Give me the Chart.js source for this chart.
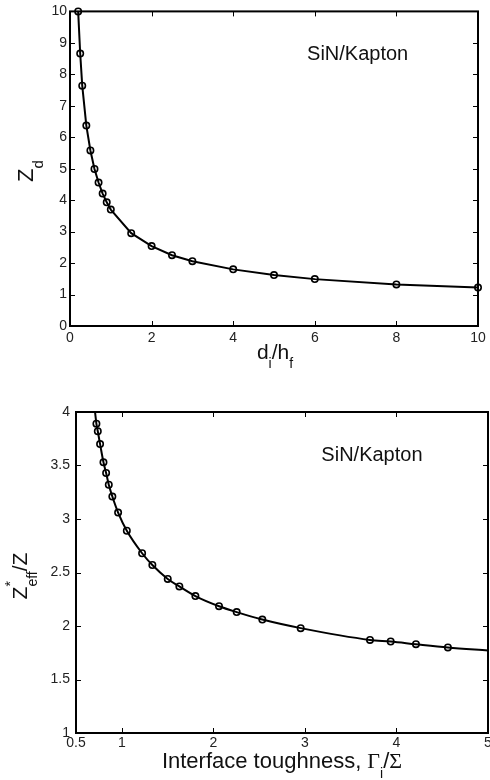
<!DOCTYPE html>
<html>
<head>
<meta charset="utf-8">
<script src="https://cdn.jsdelivr.net/npm/chart.js@4"></script>
<style>
body{ margin:0; background:#fff; overflow:hidden; }
#arriba{ position:absolute; left:0; top:0; }
#abajo{ position:absolute; left:0; top:390px; }
</style>
</head>
<body>

<canvas id="arriba" width="500" height="390"></canvas>
<canvas id="abajo" width="500" height="390"></canvas>

<script>

// ================================
// DATOS
// ================================

// Z_d frente a d_i/h_f
const relacionD = [0.2,0.25,0.3,0.4,0.5,0.6,0.7,0.8,0.9,1.0,1.5,2,2.5,3,4,5,6,8,10];
const zd = [10,8.66,7.64,6.37,5.58,4.99,4.56,4.21,3.93,3.70,2.95,2.54,2.25,2.06,1.80,1.62,1.49,1.32,1.22];

// Z*eff/Z frente a tenacidad de la interfaz
const tenacidad = [0.723,0.738,0.763,0.80,0.829,0.858,0.897,0.96,1.055,1.222,1.334,1.502,1.629,1.804,2.062,2.255,2.535,2.954,3.711,3.937,4.213,4.562];
const zEff = [3.89,3.82,3.70,3.53,3.43,3.32,3.21,3.06,2.89,2.68,2.57,2.44,2.37,2.28,2.185,2.13,2.06,1.98,1.87,1.855,1.83,1.80];

// extremos de la curva continua
const curvaInicio = {x:0.708, y:4.0};
const curvaFin = {x:5.0, y:1.77};

const ticksXAbajo = [0.5,1,2,3,4,5];

const fuente = "'Liberation Sans', Arial, sans-serif";
const fuenteSerif = "'Liberation Serif', 'Times New Roman', serif";


// ================================
// TEXTO CON SUBINDICES
// ================================

function anchoPartes(ctx, partes){
    let total = 0;
    partes.forEach(p=>{
        ctx.font = p.size + "px " + (p.family || fuente);
        if(!p.stack) total += ctx.measureText(p.t).width;
    });
    return total;
}

function textoRico(ctx, partes, cx, cy, girado){

    ctx.save();
    ctx.translate(cx, cy);
    if(girado) ctx.rotate(-Math.PI/2);

    ctx.fillStyle = "#111";
    ctx.textBaseline = "alphabetic";
    ctx.textAlign = "left";

    let x = -anchoPartes(ctx, partes)/2;

    partes.forEach(p=>{
        ctx.font = p.size + "px " + (p.family || fuente);
        ctx.fillText(p.t, x, p.dy || 0);
        if(!p.stack) x += ctx.measureText(p.t).width;
    });

    ctx.restore();
}


// ================================
// CAJA Y TICKS HACIA DENTRO
// ================================

const cajaPlugin = {

    id: "caja",

    afterDraw(chart){

        const ctx = chart.ctx;
        const a = chart.chartArea;
        const sx = chart.scales.x;
        const sy = chart.scales.y;
        const largo = 5;

        ctx.save();
        ctx.strokeStyle = "#000";
        ctx.lineWidth = 1;

        ctx.beginPath();
        sx.ticks.forEach(t=>{
            const px = Math.round(sx.getPixelForValue(t.value)) + 0.5;
            ctx.moveTo(px, a.bottom); ctx.lineTo(px, a.bottom - largo);
            ctx.moveTo(px, a.top); ctx.lineTo(px, a.top + largo);
        });
        sy.ticks.forEach(t=>{
            const py = Math.round(sy.getPixelForValue(t.value)) + 0.5;
            ctx.moveTo(a.left, py); ctx.lineTo(a.left + largo, py);
            ctx.moveTo(a.right, py); ctx.lineTo(a.right - largo, py);
        });
        ctx.stroke();

        ctx.lineWidth = 2;
        ctx.strokeRect(a.left, a.top, a.right - a.left, a.bottom - a.top);

        ctx.restore();

        const o = chart.options.plugins.textos;
        if(!o) return;

        // titulos de los ejes
        o.titulos.forEach(t=>{
            textoRico(ctx, t.partes, t.x, t.y, t.girado);
        });

        // etiqueta del material, colocada en coordenadas de datos
        ctx.save();
        ctx.font = "20px " + fuente;
        ctx.fillStyle = "#111";
        ctx.textAlign = "left";
        ctx.textBaseline = "alphabetic";
        ctx.fillText(
            o.material.texto,
            sx.getPixelForValue(o.material.x),
            sy.getPixelForValue(o.material.y)
        );
        ctx.restore();
    }
};


function escala(min, max, opciones, ancho, alto){

    const s = {
        type: "linear",
        min: min,
        max: max,
        grid: { display:false, drawTicks:false },
        border: { display:false },
        ticks: Object.assign({
            color: "#222",
            font: { family: fuente, size: 14 },
            autoSkip: false,
            maxRotation: 0,
            callback: v => String(v)
        }, opciones)
    };

    if(ancho) s.afterFit = e => { e.width = ancho; };
    if(alto) s.afterFit = e => { e.height = alto; };

    return s;
}


// ================================
// GRAFICO SUPERIOR
// ================================

new Chart(document.getElementById("arriba"), {

    type: "scatter",

    data: {
        datasets: [{
            data: relacionD.map((x,i)=>({x:x, y:zd[i]})),
            showLine: true,
            borderColor: "#000",
            borderWidth: 2,
            tension: 0,
            pointRadius: 3.2,
            pointBorderWidth: 1.6,
            pointBorderColor: "#000",
            pointBackgroundColor: "rgba(0,0,0,0)",
            clip: false
        }]
    },

    options: {
        responsive: false,
        animation: false,
        layout: { padding: { top:11, right:22, left:0, bottom:0 } },
        scales: {
            x: escala(0, 10, { stepSize:2, padding:4 }, null, 64),
            y: escala(0, 10, { stepSize:1, padding:3 }, 70, null)
        },
        plugins: {
            legend: { display:false },
            tooltip: { enabled:false },
            textos: {
                material: { texto:"SiN/Kapton", x:5.81, y:8.47 },
                titulos: [
                    {
                        x: 275, y: 359, girado: false,
                        partes: [
                            { t:"d", size:21 },
                            { t:"i", size:14, dy:9 },
                            { t:"/h", size:21 },
                            { t:"f", size:14, dy:9 }
                        ]
                    },
                    {
                        x: 33, y: 171, girado: true,
                        partes: [
                            { t:"Z", size:22 },
                            { t:"d", size:15, dy:10 }
                        ]
                    }
                ]
            }
        }
    },

    plugins: [cajaPlugin]
});


// ================================
// GRAFICO INFERIOR
// ================================

const puntosAbajo = tenacidad.map((x,i)=>({x:x, y:zEff[i]}));

new Chart(document.getElementById("abajo"), {

    type: "scatter",

    data: {
        datasets: [
            {
                data: [curvaInicio].concat(puntosAbajo, [curvaFin]),
                showLine: true,
                borderColor: "#000",
                borderWidth: 2,
                cubicInterpolationMode: "monotone",
                pointRadius: 0
            },
            {
                data: puntosAbajo,
                showLine: false,
                pointRadius: 3.2,
                pointBorderWidth: 1.6,
                pointBorderColor: "#000",
                pointBackgroundColor: "rgba(0,0,0,0)",
                clip: false
            }
        ]
    },

    options: {
        responsive: false,
        animation: false,
        layout: { padding: { top:22, right:12, left:0, bottom:0 } },
        scales: {
            x: Object.assign(
                escala(0.5, 5, { padding:2 }, null, 47),
                { afterBuildTicks: e => { e.ticks = ticksXAbajo.map(v=>({value:v})); } }
            ),
            y: escala(1, 4, { stepSize:0.5, padding:6 }, 76, null)
        },
        plugins: {
            legend: { display:false },
            tooltip: { enabled:false },
            textos: {
                material: { texto:"SiN/Kapton", x:3.18, y:3.54 },
                titulos: [
                    {
                        x: 282, y: 378, girado: false,
                        partes: [
                            { t:"Interface toughness, ", size:22 },
                            { t:"Γ", size:22, family:fuenteSerif },
                            { t:"i", size:14, dy:10 },
                            { t:"/", size:22 },
                            { t:"Σ", size:22, family:fuenteSerif }
                        ]
                    },
                    {
                        x: 27, y: 186, girado: true,
                        partes: [
                            { t:"Z", size:21 },
                            { t:"*", size:14, dy:-12, stack:true },
                            { t:"eff", size:14, dy:10 },
                            { t:"/Z", size:21 }
                        ]
                    }
                ]
            }
        }
    },

    plugins: [cajaPlugin]
});

</script>
</body>
</html>
